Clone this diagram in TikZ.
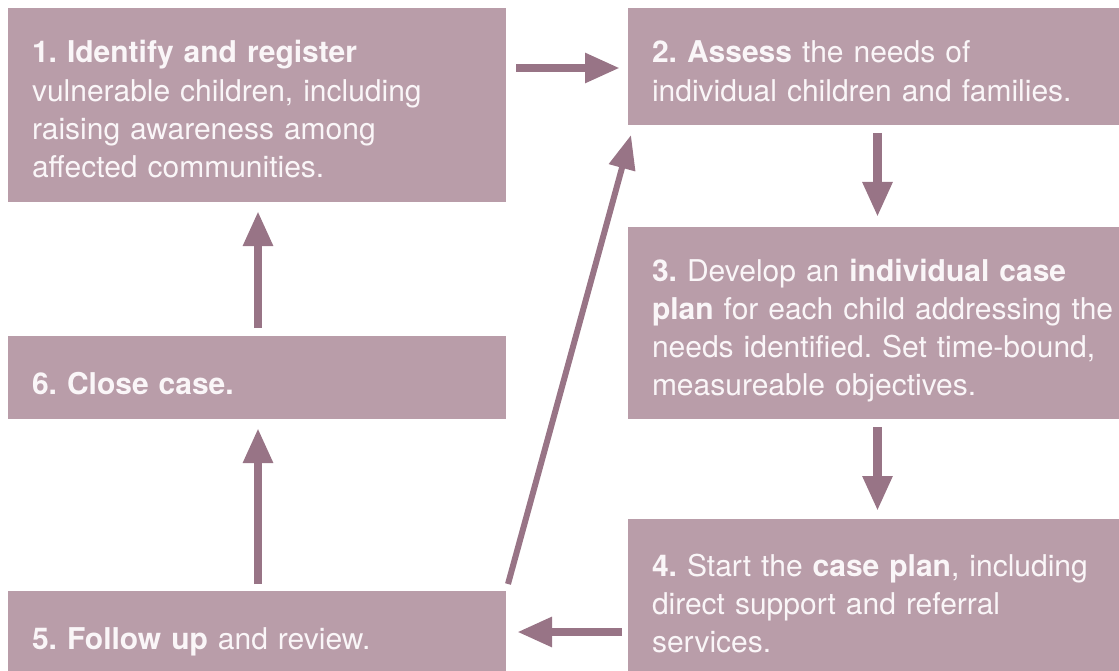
\documentclass[tikz,border=0pt]{standalone}
\usepackage{fontspec}
\setmainfont{TeX Gyre Heros}
\usetikzlibrary{arrows.meta,calc}
\definecolor{boxfill}{HTML}{B99DA9}
\definecolor{arrowcol}{HTML}{987486}
\definecolor{txtcol}{HTML}{FAF6F8}
\newcommand{\fst}{\rule{0pt}{25pt}}
\tikzset{
  box/.style={fill=boxfill, draw=none, inner sep=0pt, outer sep=0pt, anchor=north west},
  txt/.style={anchor=north west, inner sep=0pt, outer sep=0pt, text=txtcol, align=left,
    text width=480pt, font=\fontsize{30}{38.3}\selectfont\frenchspacing},
  arr/.style={draw=arrowcol, line width=8.5pt, -{Triangle[width=28pt,length=35pt]}},
  arrthin/.style={draw=arrowcol, line width=6pt, -{Triangle[width=26pt,length=34pt]}}
}
\begin{document}
\begin{tikzpicture}[x=1pt,y=-1pt]
\useasboundingbox (0,0) rectangle (1119,671);
% boxes
\node[box, minimum width=498pt, minimum height=194pt] (b1) at (8,8) {};
\node[box, minimum width=491pt, minimum height=117pt] (b2) at (628,8) {};
\node[box, minimum width=491pt, minimum height=192pt] (b3) at (628,227) {};
\node[box, minimum width=491pt, minimum height=152pt] (b4) at (628,519) {};
\node[box, minimum width=498pt, minimum height=80pt] (b5) at (8,591) {};
\node[box, minimum width=498pt, minimum height=83pt] (b6) at (8,336) {};
% texts
\node[txt] (t1) at ([shift={(24,30)}]b1.north west)
  {\fst\textbf{1. Identify and register}\\vulnerable children, including\\raising awareness among\\affected communities.};
\node[txt] (t2) at ([shift={(24,30)}]b2.north west)
  {\fst\textbf{2. Assess} the needs of\\individual children and families.};
\node[txt] (t3) at ([shift={(24,29)}]b3.north west)
  {\fst\textbf{3.} Develop an \textbf{individual case}\\\textbf{plan} for each child addressing the\\needs identified. Set time-bound,\\measureable objectives.};
\node[txt] (t4) at ([shift={(24,32)}]b4.north west)
  {\fst\textbf{4.} Start the \textbf{case plan}, including\\direct support and referral\\services.};
\node[txt] (t5) at ([shift={(24,33)}]b5.north west)
  {\fst\textbf{5. Follow up} and review.};
\node[txt] (t6) at ([shift={(24,33)}]b6.north west)
  {\fst\textbf{6. Close case.}};
% connectors
\draw[arr] ([shift={(10,60)}]b1.north east) -- ([shift={(-8,60)}]b2.north west);
\draw[arr] ([shift={(4,8)}]b2.south) -- ([shift={(4,-10)}]b3.north);
\draw[arr] ([shift={(4,8)}]b3.south) -- ([shift={(4,-8)}]b4.north);
\draw[arr] ($(b4.west |- b5.east)+(-6,1)$) -- ($(b5.east)+(11,1)$);
\draw[arr] ([shift={(1,-7)}]b5.north) -- ([shift={(1,9)}]b6.south);
\draw[arr] ([shift={(1,-8)}]b6.north) -- ([shift={(1,9)}]b1.south);
\draw[arrthin] ([shift={(2,-7)}]b5.north east) -- ([shift={(3,10)}]b2.south west);
\end{tikzpicture}
\end{document}
